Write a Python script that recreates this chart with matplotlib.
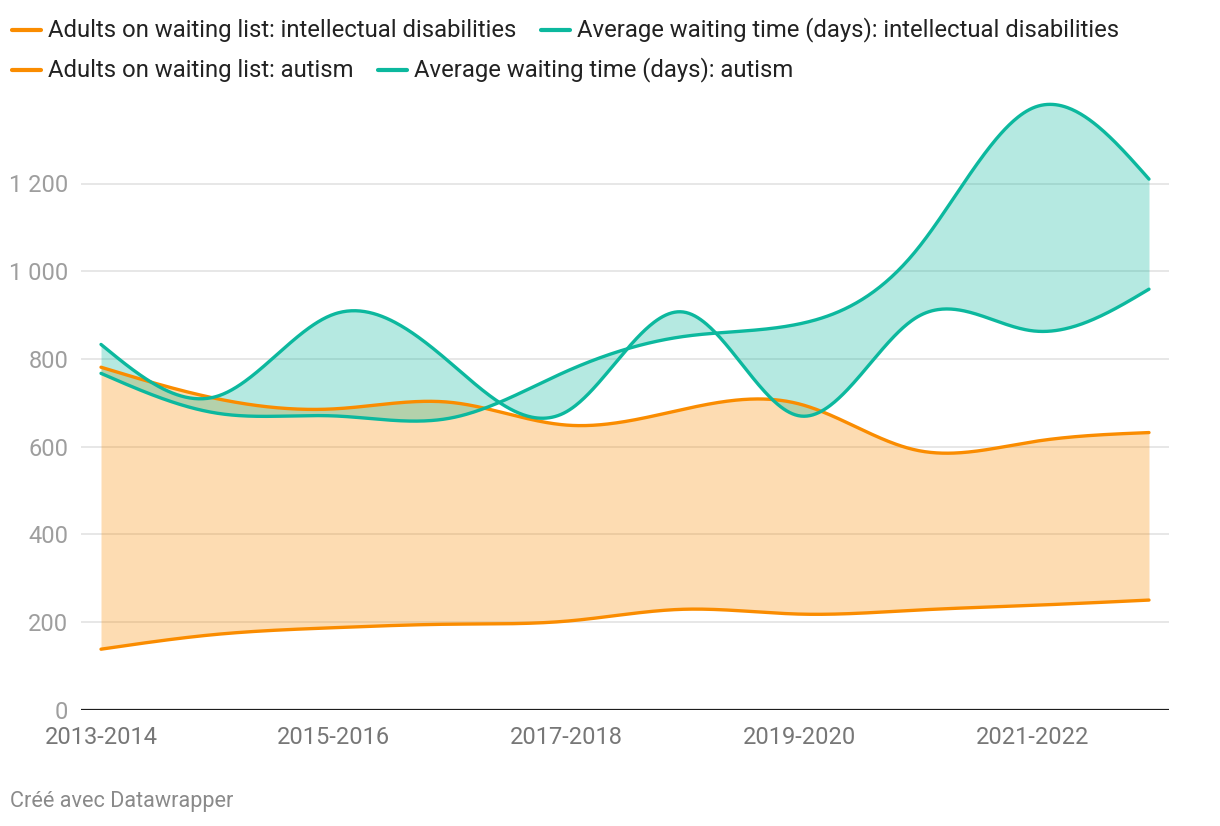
import numpy as np
import matplotlib.pyplot as plt
from matplotlib.lines import Line2D

plt.rcParams['font.family'] = ['Roboto', 'DejaVu Sans']

years = ["2013-2014", "2014-2015", "2015-2016", "2016-2017", "2017-2018",
         "2018-2019", "2019-2020", "2020-2021", "2021-2022", "2022-2023"]
adults_id = [781, 709, 686, 701, 649, 685, 697, 592, 611, 632]
adults_autism = [138, 172, 187, 195, 202, 229, 218, 227, 238, 250]
wait_id = [833, 715, 902, 791, 680, 907, 670, 894, 864, 959]
wait_autism = [767, 676, 670, 665, 772, 851, 880, 1047, 1372, 1210]

yticks = [0, 200, 400, 600, 800, 1000, 1200]
ytick_labels = ["0", "200", "400", "600", "800", "1 000", "1 200"]

ORANGE = "#fa8c00"
TEAL = "#0cb89e"


def natural_spline(y, n=80):
    # natural cubic spline through equally spaced points
    y = np.asarray(y, float)
    k = len(y)
    A = np.zeros((k, k))
    r = np.zeros(k)
    A[0, 0] = A[-1, -1] = 1
    for i in range(1, k - 1):
        A[i, i - 1], A[i, i], A[i, i + 1] = 1, 4, 1
        r[i] = 6 * (y[i - 1] - 2 * y[i] + y[i + 1])
    M = np.linalg.solve(A, r)
    xs = np.linspace(0, k - 1, (k - 1) * n + 1)
    i = np.minimum(xs.astype(int), k - 2)
    t = xs - i
    ys = ((1 - t) * y[i] + t * y[i + 1]
          + ((1 - t) ** 3 - (1 - t)) * M[i] / 6 + (t ** 3 - t) * M[i + 1] / 6)
    return xs, ys


W, H = 1220, 826
fig = plt.figure(figsize=(W / 100, H / 100), dpi=100)
ax = fig.add_axes([81 / W, 1 - 709.7 / H, (1169 - 81) / W, (709.7 - 95.8) / H])

xs, o1 = natural_spline(adults_id)
_, o2 = natural_spline(adults_autism)
_, t1 = natural_spline(wait_id)
_, t2 = natural_spline(wait_autism)

ax.fill_between(xs, o1, o2, color=ORANGE, alpha=0.3, lw=0, zorder=2)
ax.fill_between(xs, t1, t2, color=TEAL, alpha=0.3, lw=0, zorder=3)
ax.plot(xs, o1, color=ORANGE, lw=2.4, solid_capstyle='round', zorder=4)
ax.plot(xs, o2, color=ORANGE, lw=2.4, solid_capstyle='round', zorder=4)
ax.plot(xs, t1, color=TEAL, lw=2.4, solid_capstyle='round', zorder=5)
ax.plot(xs, t2, color=TEAL, lw=2.4, solid_capstyle='round', zorder=5)

pad = 20 / 116.4
ax.set_xlim(-pad, len(years) - 1 + pad)
ax.set_ylim(0, 1400)

for v in yticks[1:]:
    ax.axhline(v, color="#e3e3e3", lw=1.2, zorder=1)
ax.axhline(0, color="#1d1d1d", lw=1.6, zorder=6)

for s in ax.spines.values():
    s.set_visible(False)

ax.set_yticks(yticks)
ax.set_yticklabels(ytick_labels)
ax.set_xticks(range(0, len(years), 2))
ax.set_xticklabels(years[::2])
ax.tick_params(axis='y', length=0, pad=9, labelsize=17, labelcolor="#9e9e9e")
ax.tick_params(axis='x', length=0, pad=12, labelsize=17, labelcolor="#777777")

# legend, two rows
legend_items = [
    (ORANGE, "Adults on waiting list: intellectual disabilities", 12, 30),
    (TEAL, "Average waiting time (days): intellectual disabilities", 541, 30),
    (ORANGE, "Adults on waiting list: autism", 12, 70),
    (TEAL, "Average waiting time (days): autism", 378, 70),
]
for color, label, x0, y0 in legend_items:
    fig.add_artist(Line2D([x0 / W, (x0 + 29) / W], [1 - y0 / H, 1 - y0 / H],
                          color=color, lw=3, solid_capstyle='round'))
    fig.text((x0 + 36) / W, 1 - y0 / H, label, fontsize=17.2, color="#222222",
             va='center', ha='left')

fig.text(10 / W, 1 - 802 / H, "Créé avec Datawrapper", fontsize=15.6,
         color="#8a8a8a", va='center', ha='left')

fig.savefig("out.png", dpi=100)
